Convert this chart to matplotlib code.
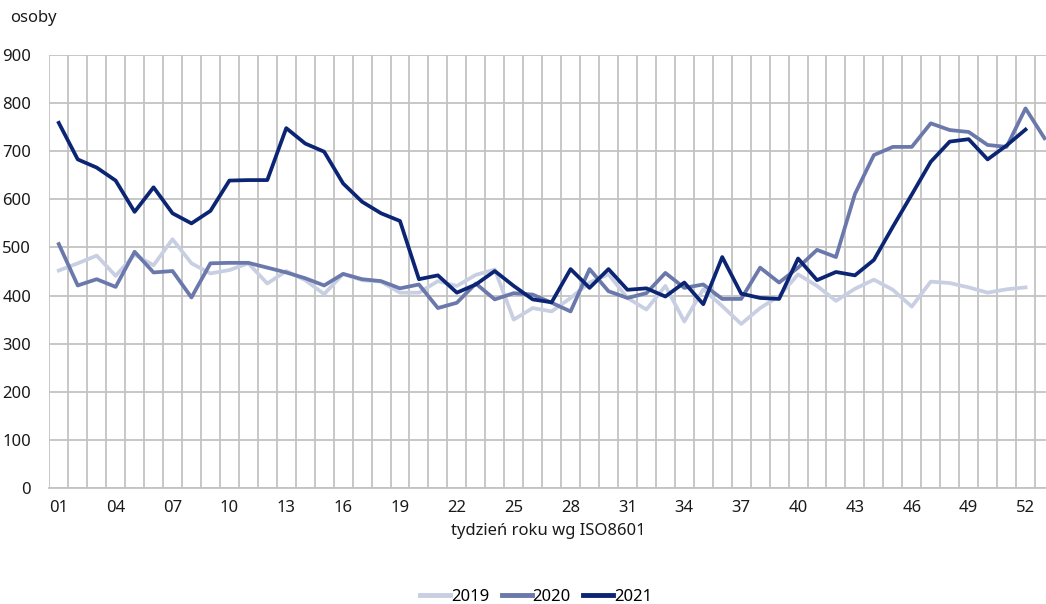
import matplotlib
matplotlib.use("Agg")
import matplotlib.pyplot as plt
from matplotlib.ticker import MultipleLocator, FixedLocator

plt.rcParams['font.family'] = ['Noto Sans', 'DejaVu Sans']

# tygodnie ISO (2020 ma 53 tygodnie)
weeks_52 = list(range(1, 53))
weeks_53 = list(range(1, 54))

v2019 = [452, 467, 483, 441, 485, 463, 517, 467, 446, 453,
         467, 425, 451, 432, 403, 445, 432, 429, 406, 406,
         430, 420, 443, 454, 350, 374, 367, 395, 427, 444,
         395, 371, 420, 346, 413, 378, 341, 374, 399, 444,
         420, 389, 414, 433, 412, 377, 429, 426, 417, 406,
         413, 417]
v2020 = [507, 421, 434, 418, 491, 448, 451, 396, 467, 468,
         468, 458, 448, 436, 421, 445, 434, 430, 415, 423,
         374, 385, 425, 392, 405, 402, 385, 367, 455, 409,
         395, 405, 447, 416, 423, 393, 393, 458, 427, 458,
         495, 480, 611, 692, 709, 709, 758, 744, 740, 713,
         709, 789, 727]
v2021 = [759, 683, 666, 639, 574, 625, 571, 550, 576, 639,
         640, 640, 748, 716, 699, 633, 595, 571, 555, 434,
         442, 406, 423, 451, 420, 392, 386, 455, 416, 455,
         412, 415, 398, 427, 382, 480, 404, 395, 393, 477,
         432, 449, 442, 474, 543, 610, 678, 720, 725, 683,
         712, 745]

tick_weeks = list(range(1, 53, 3))
tick_labels = ['%02d' % w for w in tick_weeks]

fig = plt.figure(figsize=(10.46, 6.04), dpi=100)
ax = fig.add_axes([49.3 / 1046, 1 - 488 / 604, 1 - 49.3 / 1046, (488 - 55) / 604])

ax.plot(weeks_52, v2019, color='#c9cfe3', linewidth=2.7, label='2019', zorder=3)
ax.plot(weeks_53, v2020, color='#6a78ab', linewidth=2.7, label='2020', zorder=4)
ax.plot(weeks_52, v2021, color='#0b2574', linewidth=2.7, label='2021', zorder=5)

ax.set_xlim(0.5, 53.08)
ax.set_ylim(0, 900)
ax.yaxis.set_major_locator(MultipleLocator(100))
ax.xaxis.set_major_locator(FixedLocator(tick_weeks))
ax.set_xticklabels(tick_labels)
ax.xaxis.set_minor_locator(FixedLocator([w + 0.5 for w in range(0, 54)]))

ax.grid(True, which='major', axis='y', color='#c3c3c3', linewidth=1.3)
ax.grid(True, which='minor', axis='x', color='#c3c3c3', linewidth=1.3)
ax.set_axisbelow(True)
for s in ['top', 'right', 'left']:
    ax.spines[s].set_visible(False)
ax.spines['bottom'].set_color('#c3c3c3')
ax.spines['bottom'].set_linewidth(1.3)

ax.tick_params(axis='both', which='both', length=0, labelsize=12, colors='#1a1a1a')
ax.tick_params(axis='y', pad=13)
ax.tick_params(axis='x', pad=9)

fig.text(10 / 1046, 1 - 18 / 604, 'osoby', fontsize=12, color='#1a1a1a', va='center', ha='left')
fig.text(548 / 1046, 1 - 531 / 604, 'tydzień roku wg ISO8601', fontsize=12,
         color='#1a1a1a', ha='center', va='center')

leg = fig.legend(loc='center', bbox_to_anchor=(536 / 1046, 1 - 597 / 604), ncol=3, frameon=False,
                 fontsize=12, handlelength=1.8, handletextpad=0.05, columnspacing=0.75,
                 borderaxespad=0)
for h in leg.get_lines():
    h.set_linewidth(3.5)

fig.savefig('out.png', dpi=100)
